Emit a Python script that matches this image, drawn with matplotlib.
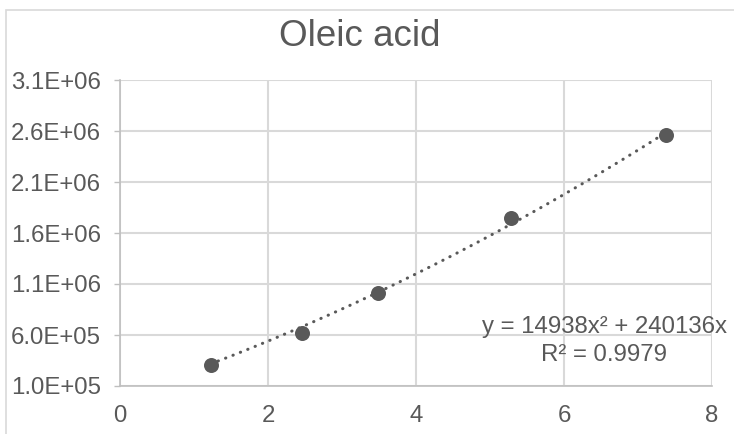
import numpy as np
import matplotlib
matplotlib.use("Agg")
import matplotlib.pyplot as plt
from matplotlib.patches import Rectangle

plt.rcParams['font.family'] = ['Liberation Sans', 'DejaVu Sans']

title = "Oleic acid"
x_vals = [1.226, 2.455, 3.49, 5.28, 7.378]
y_vals = [305900, 616700, 1014700, 1744000, 2561000]
coef_a = 14938
coef_b = 240136
r2_text = "R² = 0.9979"
eq_text = "y = 14938x² + 240136x"
x_ticks = [0, 2, 4, 6, 8]
y_ticks = [1.0e5, 6.0e5, 1.1e6, 1.6e6, 2.1e6, 2.6e6, 3.1e6]
y_tick_labels = ["1.0E+05", "6.0E+05", "1.1E+06", "1.6E+06", "2.1E+06", "2.6E+06", "3.1E+06"]

W, H = 734, 434
fig = plt.figure(figsize=(W/100, H/100), dpi=100)
TXT = '#595959'
GRID = '#d9d9d9'
AX = '#bfbfbf'

# outer chart border
fig.patches.append(Rectangle((6/W, -0.1), 2, (H-10)/H + 0.1, transform=fig.transFigure,
                             fill=False, edgecolor=GRID, linewidth=1.2))

ax = fig.add_axes([120/W, 1-386/H, (712-120)/W, (386-80)/H])
ax.set_xlim(0, 8)
ax.set_ylim(1.0e5, 3.1e6)
ax.set_xticks(x_ticks)
ax.set_xticklabels([str(t) for t in x_ticks])
ax.set_yticks(y_ticks)
ax.set_yticklabels(y_tick_labels)
ax.grid(True, color=GRID, linewidth=1.5)
ax.set_axisbelow(True)
for s in ['top', 'right']:
    ax.spines[s].set_visible(False)
ax.spines['left'].set_color(AX)
ax.spines['bottom'].set_color(AX)
ax.spines['left'].set_linewidth(1.2)
ax.spines['bottom'].set_linewidth(1.2)
ax.tick_params(axis='y', length=4.3, width=1, color=AX, pad=9.5, labelsize=17.3, labelcolor=TXT)
ax.tick_params(axis='x', length=0, pad=14, labelsize=17.3, labelcolor=TXT)

# trendline
xt = np.linspace(min(x_vals), max(x_vals), 200)
yt = coef_a * xt**2 + coef_b * xt
ax.plot(xt, yt, color=TXT, linewidth=2.2, linestyle=(0, (0.1, 2.5)),
        dash_capstyle='round', zorder=3)

ax.plot(x_vals, y_vals, 'o', color=TXT, markersize=10.8, markeredgewidth=0, zorder=4)

fig.text(604/W, 1-327/H, eq_text, ha='center', va='center', fontsize=17.3, color=TXT)
fig.text(604/W, 1-355/H, r2_text, ha='center', va='center', fontsize=17.3, color=TXT)

fig.text(360/W, 1-36/H, title, ha='center', va='center', fontsize=26.5, color=TXT)

fig.savefig('out.png', dpi=100)
